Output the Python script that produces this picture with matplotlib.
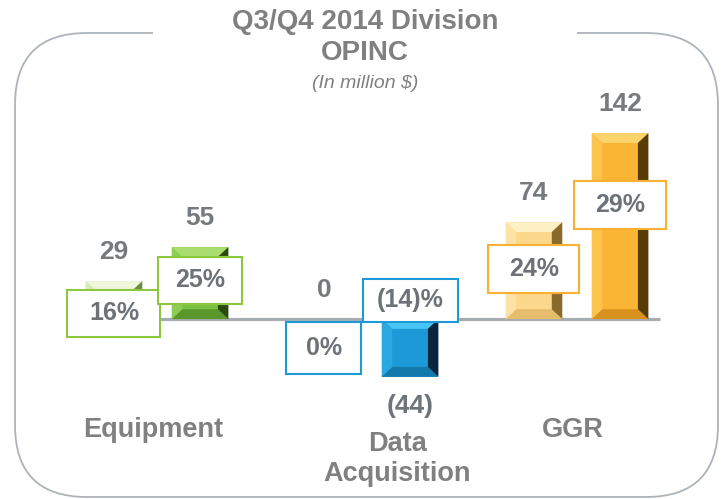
import matplotlib
matplotlib.use("Agg")
import matplotlib.pyplot as plt
from matplotlib.patches import FancyBboxPatch, Rectangle, Polygon
import numpy as np

plt.rcParams["font.family"] = ["Liberation Sans", "DejaVu Sans"]

# data
categories = ["Equipment", "Data\nAcquisition", "GGR"]
q3_values = [29, 0, 74]
q4_values = [55, -44, 142]
q3_pct = ["16%", "0%", "24%"]
q4_pct = ["25%", "(14)%", "29%"]

# styles
group_edge = ["#8dc63f", "#1b9ad7", "#fbb034"]
# face, top, left, right, bottom
q3_colors = [
    ("#cde4a3", "#eef7dc", "#d9ecb8", "#6f8a45", "#a9c47a"),
    ("#1b9ad7", "#45c3f3", "#2aa8e2", "#0a2d45", "#137aab"),
    ("#fcd88c", "#fff1c6", "#fde2a6", "#8a6a2a", "#e6bd6c"),
]
q4_colors = [
    ("#7cc242", "#a9dd6f", "#8fce55", "#2c4a10", "#5b962a"),
    ("#1b9ad7", "#48c5f4", "#2aa8e2", "#08273c", "#127aab"),
    ("#fbb535", "#fdd46c", "#fcc44e", "#573c07", "#d8911c"),
]

# layout (label positions, in data units)
q3_box_y = [4.6, -22, 38]
q4_box_y = [29.8, 14.5, 87]
q3_box_px = [(93, 47), (75, 52), (91, 48)]
q4_box_px = [(84, 47), (95, 43), (92, 48)]
cat_dx = [-0.02, 0.143, -0.02]
cat_y = [-85, -107, -85]

PX_X = 1 / 210.0
PX_Y = 1 / 1.31
bar_w = 0.27
offset = 0.205

fig = plt.figure(figsize=(7.25, 4.99), dpi=100)

# frame with rounded corners in pixel coordinates
bg = fig.add_axes([0, 0, 1, 1], zorder=0)
bg.set_xlim(0, 725)
bg.set_ylim(499, 0)
bg.axis("off")
frame = FancyBboxPatch((15, 33), 703, 464, boxstyle="round,pad=0,rounding_size=72",
                       fill=False, edgecolor="#adb3ba", linewidth=1.3)
bg.add_patch(frame)
bg.add_patch(Rectangle((153, 26), 424, 14, facecolor="white", edgecolor="none"))

ax = fig.add_axes([52 / 725, (499 - 397.6) / 499, 630 / 725, 288 / 499], zorder=1)
ax.patch.set_alpha(0)
ax.set_xlim(-0.5, 2.5)
ax.set_ylim(-60, 160)
ax.axis("off")

x = np.arange(len(categories))
ax.plot([-0.414, 2.395], [0, 0], color="#a7acb2", linewidth=2.3, zorder=1,
        solid_capstyle="butt")


def bevel_bar(patch, cols):
    x0 = patch.get_x()
    x1 = x0 + patch.get_width()
    b = patch.get_y()
    t = b + patch.get_height()
    if patch.get_height() < 0:
        b, t = t, b
    if t - b <= 0:
        patch.set_visible(False)
        return
    face, top, left, right, bottom = cols
    patch.set_facecolor(face)
    bx = 0.05
    by = min(7.5, (t - b) * 0.4)
    polys = [
        ([(x0, t), (x1, t), (x1 - bx, t - by), (x0 + bx, t - by)], top),
        ([(x0, b), (x1, b), (x1 - bx, b + by), (x0 + bx, b + by)], bottom),
        ([(x0, b), (x0 + bx, b + by), (x0 + bx, t - by), (x0, t)], left),
        ([(x1, b), (x1 - bx, b + by), (x1 - bx, t - by), (x1, t)], right),
    ]
    for pts, c in polys:
        ax.add_patch(Polygon(pts, closed=True, facecolor=c, edgecolor="none", zorder=3))


def fmt(v):
    return f"({abs(v)})" if v < 0 else f"{v}"


for vals, xs, cols, box_y, box_px, pcts in [
    (q3_values, x - offset, q3_colors, q3_box_y, q3_box_px, q3_pct),
    (q4_values, x + offset, q4_colors, q4_box_y, q4_box_px, q4_pct),
]:
    bars = ax.bar(xs, vals, width=bar_w, zorder=2, linewidth=0)
    for i, patch in enumerate(bars):
        bevel_bar(patch, cols[i])
        v = vals[i]
        if v >= 0:
            ax.annotate(fmt(v), (xs[i], v), xytext=(0, 21), textcoords="offset points",
                        ha="center", va="center", fontsize=19, fontweight="bold",
                        color="#76797e", zorder=5)
        else:
            ax.annotate(fmt(v), (xs[i], v), xytext=(0, -21), textcoords="offset points",
                        ha="center", va="center", fontsize=19, fontweight="bold",
                        color="#6f747a", zorder=5)
        w = box_px[i][0] * PX_X
        h = box_px[i][1] * PX_Y
        ax.add_patch(Rectangle((xs[i] - w / 2, box_y[i] - h / 2), w, h,
                               facecolor="white", edgecolor=group_edge[i],
                               linewidth=1.5, zorder=6))
        ax.text(xs[i], box_y[i], pcts[i], ha="center", va="center", fontsize=18,
                fontweight="bold", color="#6d7278", zorder=7)

for i, name in enumerate(categories):
    ax.text(x[i] + cat_dx[i], cat_y[i], name, ha="center", va="center",
            multialignment="center", linespacing=1.2, fontsize=19.5, fontweight="bold",
            color="#808080", clip_on=False, zorder=5)

fig.text(365 / 725, 1 - 22 / 499, "Q3/Q4 2014 Division", ha="center", va="center",
         fontsize=20, fontweight="bold", color="#808080")
fig.text(365 / 725, 1 - 53 / 499, "OPINC", ha="center", va="center",
         fontsize=20, fontweight="bold", color="#808080")
fig.text(365 / 725, 1 - 84 / 499, "(In million $)", ha="center", va="center",
         fontsize=14, style="italic", color="#808080")

fig.savefig("out.png", dpi=100, facecolor="white")
